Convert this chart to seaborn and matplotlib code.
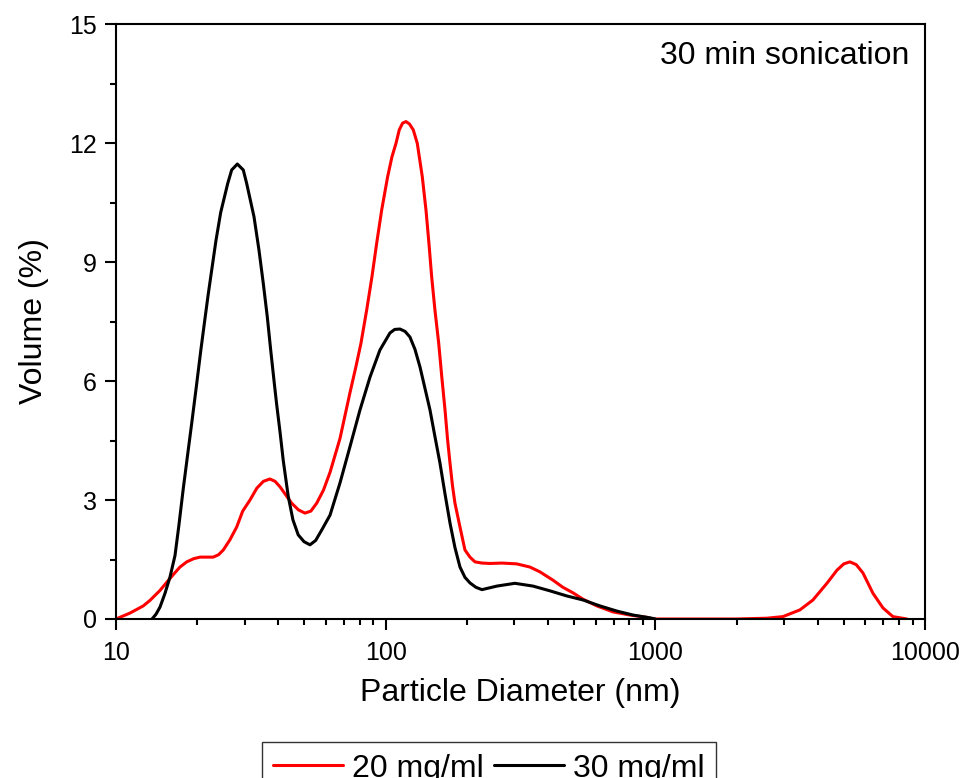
import numpy as np
import pandas as pd
import matplotlib
matplotlib.use("Agg")
import matplotlib.pyplot as plt
import matplotlib.ticker as mticker
import seaborn as sns

# ---- data ----
red_d = [10.0, 11.27, 12.62, 13.37, 14.56, 15.4, 16.31, 17.27, 18.29, 19.4, 20.49, 21.7,
         22.94, 24.0, 25.0, 26.47, 28.03, 29.5, 31.4, 33.3, 35.2, 37.2, 38.9, 40.6,
         42.7, 44.8, 47.5, 50.2, 52.8, 55.5, 58.8, 62.2, 67.7, 73.7, 77.5, 80.97,
         85.04, 88.96, 92.6, 96.65, 101.7, 105.5, 109.2, 112.3, 115.5, 118.9, 122.5,
         126.6, 131.0, 136.7, 141.1, 144.7, 148.1, 152.3, 157.3, 161.5, 166.0, 169.5,
         173.2, 177.0, 180.7, 188.6, 196.8, 205.4, 214.4, 228, 243.6, 270, 306, 342.6,
         373, 417, 454, 495, 539, 607, 696, 805, 931, 979, 2000, 2593, 2972, 3438,
         3841, 4328, 4715, 5000, 5268, 5560, 5888, 6410, 6982, 7603, 8569]
red_v = [0.0, 0.15, 0.33, 0.47, 0.72, 0.92, 1.12, 1.31, 1.44, 1.52, 1.56, 1.56,
         1.56, 1.62, 1.74, 2.0, 2.32, 2.72, 3.0, 3.3, 3.47, 3.53, 3.47, 3.33,
         3.12, 2.92, 2.75, 2.67, 2.72, 2.92, 3.25, 3.7, 4.55, 5.7, 6.35, 6.95,
         7.79, 8.63, 9.47, 10.31, 11.15, 11.65, 11.99, 12.33, 12.5, 12.54, 12.48,
         12.33, 11.99, 11.15, 10.31, 9.47, 8.63, 7.79, 6.95, 6.1, 5.27, 4.55,
         3.93, 3.35, 2.92, 2.32, 1.74, 1.56, 1.44, 1.41, 1.40, 1.41, 1.39, 1.31,
         1.19, 0.98, 0.80, 0.66, 0.50, 0.33, 0.18, 0.10, 0.04, 0.0, 0.0, 0.02, 0.06, 0.23,
         0.48, 0.90, 1.23, 1.39, 1.44, 1.37, 1.16, 0.65, 0.28, 0.06, 0.0]

black_d = [13.6, 14.07, 14.56, 15.2, 15.86, 16.55, 17.1, 17.77, 18.4, 19.1, 19.85,
           20.61, 21.26, 21.94, 22.7, 23.49, 24.45, 25.96, 26.85, 28.18, 29.65, 30.52,
           32.49, 33.9, 35.17, 36.39, 37.47, 38.64, 39.44, 40.6, 41.7, 43.5, 45.3, 47.4,
           49.8, 52.4, 55.0, 58.0, 62.2, 67.7, 73.7, 80.3, 87.5, 95.2, 103.7, 108,
           113, 118, 123, 128.4, 134.1, 146.0, 152.3, 159.0, 166, 173.2, 180.7,
           188.6, 196.8, 205.4, 216, 227.5, 258.6, 301.5, 351.8, 406.6, 470.2, 539,
           623, 720, 826, 955, 1000]
black_v = [0.0, 0.12, 0.3, 0.65, 1.06, 1.6, 2.35, 3.3, 4.1, 4.95, 5.85,
           6.75, 7.45, 8.15, 8.85, 9.55, 10.25, 10.98, 11.32, 11.47, 11.32, 10.98,
           10.14, 9.3, 8.46, 7.62, 6.78, 5.94, 5.4, 4.7, 4.0, 3.1, 2.5, 2.12,
           1.95, 1.87, 1.98, 2.25, 2.62, 3.43, 4.34, 5.27, 6.1, 6.78, 7.21, 7.3,
           7.31, 7.25, 7.11, 6.8, 6.35, 5.27, 4.6, 3.93, 3.15, 2.42, 1.8,
           1.31, 1.05, 0.91, 0.8, 0.74, 0.83, 0.90, 0.83, 0.71, 0.58, 0.48,
           0.33, 0.20, 0.10, 0.03, 0.0]

series_labels = ["20 mg/ml", "30 mg/ml"]
series_colors = {"20 mg/ml": "#ff0000", "30 mg/ml": "#000000"}
y_ticks = [0, 3, 6, 9, 12, 15]
x_ticks = [10, 100, 1000, 10000]
x_ticklabels = ["10", "100", "1000", "10000"]

df = pd.concat([
    pd.DataFrame({"d": red_d, "v": red_v, "series": series_labels[0]}),
    pd.DataFrame({"d": black_d, "v": black_v, "series": series_labels[1]}),
], ignore_index=True)

sns.set_theme(style="white")
plt.rcParams["font.family"] = ["Liberation Sans", "DejaVu Sans"]
plt.rcParams["axes.edgecolor"] = "black"
plt.rcParams["xtick.color"] = "black"
plt.rcParams["ytick.color"] = "black"
plt.rcParams["text.color"] = "black"
plt.rcParams["axes.labelcolor"] = "black"

fig = plt.figure(figsize=(9.68, 7.78), dpi=100)
ax = fig.add_axes([116 / 968, 1 - 619 / 778, (925 - 116) / 968, (619 - 24) / 778])

sns.lineplot(data=df, x="d", y="v", hue="series", hue_order=series_labels,
             palette=series_colors, estimator=None, sort=False, ax=ax)
for ln in ax.lines:
    ln.set_linewidth(2.2)
    ln.set_solid_joinstyle("round")
    ln.set_solid_capstyle("round")

ax.set_xscale("log")
ax.set_xlim(10, 10000)
ax.set_ylim(0, 15)
ax.set_xticks(x_ticks)
ax.set_xticklabels(x_ticklabels)
ax.xaxis.set_minor_locator(mticker.LogLocator(base=10, subs=np.arange(2, 10)))
ax.xaxis.set_minor_formatter(mticker.NullFormatter())
ax.set_yticks(y_ticks)
ax.yaxis.set_minor_locator(mticker.MultipleLocator(1.5))

for s in ax.spines.values():
    s.set_linewidth(1.5)
    s.set_color("black")
ax.tick_params(which="major", direction="out", length=8, width=1.5, labelsize=18,
               bottom=True, left=True, top=False, right=False)
ax.tick_params(axis="x", which="major", pad=8)
ax.tick_params(axis="y", which="major", pad=6)
ax.tick_params(which="minor", direction="out", length=4, width=1.5,
               bottom=True, left=True, top=False, right=False)

ax.set_xlabel("Particle Diameter (nm)", fontsize=23, labelpad=9)
ax.set_ylabel("Volume (%)", fontsize=23, labelpad=14)

ax.text(0.981, 0.972, "30 min sonication", transform=ax.transAxes,
        ha="right", va="top", fontsize=23)

handles, labels = ax.get_legend_handles_labels()
for h in handles:
    h.set_linewidth(2.2)
ax.get_legend().remove()
leg = fig.legend(handles, labels, ncol=2, loc="upper center",
                 bbox_to_anchor=(489 / 968, 1 - 742 / 778), bbox_transform=fig.transFigure,
                 frameon=True, fancybox=False, edgecolor="#333333", framealpha=1,
                 fontsize=23, handlelength=2.2, handletextpad=0.28, columnspacing=0.31,
                 borderpad=0.36, borderaxespad=0)
leg.get_frame().set_linewidth(1.0)

fig.savefig("out.png", dpi=100)
